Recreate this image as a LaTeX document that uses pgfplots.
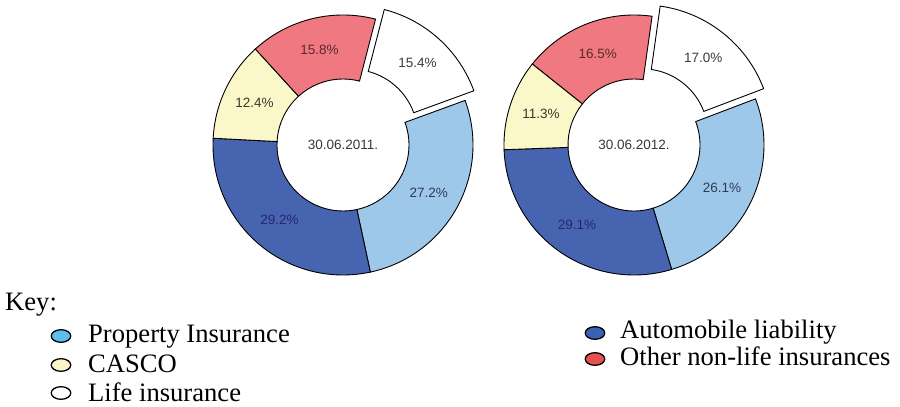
\documentclass[border=0pt]{standalone}
\usepackage{pgfplots}
\usepackage{pgfplotstable}
\pgfplotsset{compat=1.18}
\usepackage{fontspec}
\setmainfont{Liberation Serif}
\newfontfamily\arial{Liberation Sans}

\definecolor{propc}{HTML}{9EC8EA}
\definecolor{autoc}{HTML}{4664AF}
\definecolor{cascoc}{HTML}{FAF7C8}
\definecolor{otherc}{HTML}{F07880}
\definecolor{lifec}{HTML}{FFFFFF}
\definecolor{tlife}{HTML}{3A3A3A}
\definecolor{tprop}{HTML}{2F3A58}
\definecolor{tauto}{HTML}{28286E}
\definecolor{tcasco}{HTML}{3A3A2E}
\definecolor{tother}{HTML}{5A2A2E}
\definecolor{legprop}{HTML}{5BBFEF}
\definecolor{legcasco}{HTML}{FAF5C8}
\definecolor{leglife}{HTML}{FFFFFF}
\definecolor{legauto}{HTML}{3A62B4}
\definecolor{legother}{HTML}{E8504F}

% shares in percent, clockwise from the exploded segment
\pgfplotstableread{
cat value fillc textc
Life 15.4 lifec tlife
Property 27.2 propc tprop
Automobile 29.2 autoc tauto
CASCO 12.4 cascoc tcasco
Other 15.8 otherc tother
}\dataA
\pgfplotstableread{
cat value fillc textc
Life 17.0 lifec tlife
Property 26.1 propc tprop
Automobile 29.1 autoc tauto
CASCO 11.3 cascoc tcasco
Other 16.5 otherc tother
}\dataB

\def\rout{130}
\def\rin{66}
\newcommand\lbl{\arial\fontsize{13.5bp}{16bp}\selectfont}
\newcommand\keyfont{\fontsize{26.6bp}{30bp}\selectfont}

% #1 table, #2 cx, #3 cy, #4 start angle, #5 centre label
\newcommand\donut[5]{%
  \def\cum{0}%
  \pgfplotsforeachungrouped \i in {0,...,4}{%
    \pgfplotstablegetelem{\i}{value}\of{#1}\edef\v{\pgfplotsretval}%
    \pgfplotstablegetelem{\i}{fillc}\of{#1}\edef\fc{\pgfplotsretval}%
    \pgfplotstablegetelem{\i}{textc}\of{#1}\edef\tc{\pgfplotsretval}%
    \pgfmathsetmacro\a{#4-\cum*3.6}%
    \pgfmathsetmacro\cum{\cum+\v}%
    \pgfmathsetmacro\b{#4-\cum*3.6}%
    \pgfmathsetmacro\m{(\a+\b)/2}%
    \ifnum\i=0 \def\ex{13}\else\def\ex{0}\fi
    \pgfmathsetmacro\cx{#2+\ex*cos(\m)}%
    \pgfmathsetmacro\cy{#3+\ex*sin(\m)}%
    \pgfmathsetmacro\ix{\cx+\rin*cos(\a)}%
    \pgfmathsetmacro\iy{\cy+\rin*sin(\a)}%
    \pgfmathsetmacro\lx{\cx+98*cos(\m)}%
    \pgfmathsetmacro\ly{\cy+98*sin(\m)}%
    \edef\cmd{\noexpand\addplot[fill=\fc, draw=black, line width=0.9bp, domain=\b:\a, samples=90]
      ({\cx+\rout*cos(x)},{\cy+\rout*sin(x)})
      -- (axis cs:\ix,\iy) arc[start angle=\a, end angle=\b, radius=\rin bp] -- cycle;
      \noexpand\node[font=\noexpand\lbl, text=\tc, inner sep=0pt] at (axis cs:\lx,\ly) {\v\noexpand\%};}%
    \cmd
  }%
  \node[font=\lbl, text=black!78, inner sep=0pt] at (axis cs:#2,#3) {#5};%
}

\begin{document}
\begin{tikzpicture}
\useasboundingbox (0,0) rectangle (900bp,407bp);
\begin{axis}[
  at={(0,0)}, anchor=origin,
  x=1bp, y=1bp,
  xmin=0, xmax=900, ymin=0, ymax=407,
  hide axis, clip=false,
]
\donut{\dataA}{343}{262}{75.5}{30.06.2011.}
\donut{\dataB}{634}{262}{82}{30.06.2012.}

% key
\node[anchor=base west, inner sep=0pt, font=\keyfont] at (axis cs:5,97) {Key:};
\addplot[only marks, mark=*, mark size=6.3bp, mark options={xscale=1.55, fill=legprop, draw=black, line width=1.3bp}] coordinates {(61,71)};
\addplot[only marks, mark=*, mark size=6.3bp, mark options={xscale=1.55, fill=legcasco, draw=black, line width=1.3bp}] coordinates {(61,42)};
\addplot[only marks, mark=*, mark size=6.3bp, mark options={xscale=1.55, fill=leglife, draw=black, line width=1.3bp}] coordinates {(61,14)};
\addplot[only marks, mark=*, mark size=6.3bp, mark options={xscale=1.55, fill=legauto, draw=black, line width=1.3bp}] coordinates {(595,74)};
\addplot[only marks, mark=*, mark size=6.3bp, mark options={xscale=1.55, fill=legother, draw=black, line width=1.3bp}] coordinates {(595,48)};
\node[anchor=base west, inner sep=0pt, font=\keyfont] at (axis cs:88,65) {Property Insurance};
\node[anchor=base west, inner sep=0pt, font=\keyfont] at (axis cs:88,35) {CASCO};
\node[anchor=base west, inner sep=0pt, font=\keyfont] at (axis cs:88,6) {Life insurance};
\node[anchor=base west, inner sep=0pt, font=\keyfont] at (axis cs:620,69) {Automobile liability};
\node[anchor=base west, inner sep=0pt, font=\keyfont] at (axis cs:620,42) {Other non-life insurances};
\end{axis}
\end{tikzpicture}
\end{document}
